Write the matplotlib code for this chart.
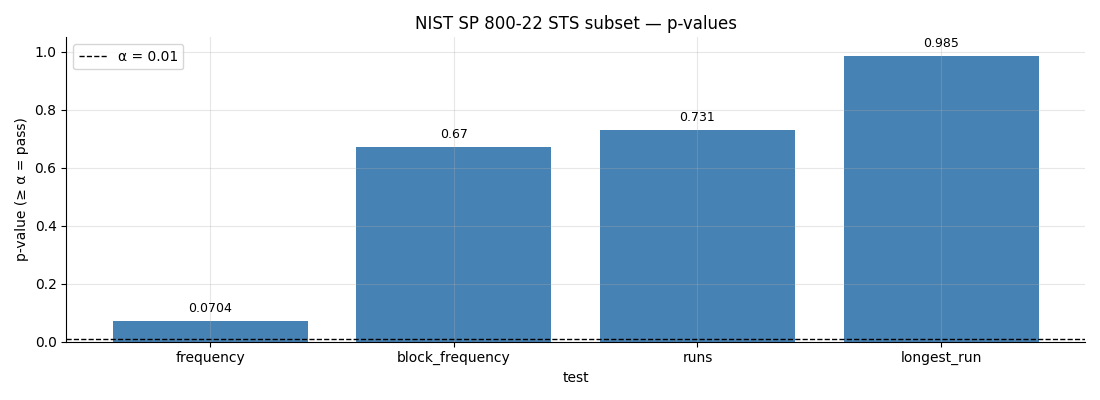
import matplotlib
matplotlib.use("Agg")
import matplotlib.pyplot as plt

tests = ["frequency", "block_frequency", "runs", "longest_run"]
p_values = [0.0704, 0.67, 0.731, 0.985]
alpha = 0.01

fig, ax = plt.subplots(figsize=(11, 4), dpi=100)
bars = ax.bar(tests, p_values, color="steelblue")
ax.bar_label(bars, labels=[f"{v:.3g}" for v in p_values], padding=4.5, fontsize=9)
ax.axhline(alpha, color="black", linestyle="--", linewidth=1, label=f"α = {alpha}")
ax.set_ylim(0, 1.05)
ax.set_xlabel("test")
ax.set_ylabel("p-value (≥ α = pass)")
ax.set_title("NIST SP 800-22 STS subset — p-values")
ax.grid(alpha=0.3)
ax.spines["top"].set_visible(False)
ax.spines["right"].set_visible(False)
ax.legend(loc="upper left")
fig.tight_layout()
fig.savefig("out.png")
